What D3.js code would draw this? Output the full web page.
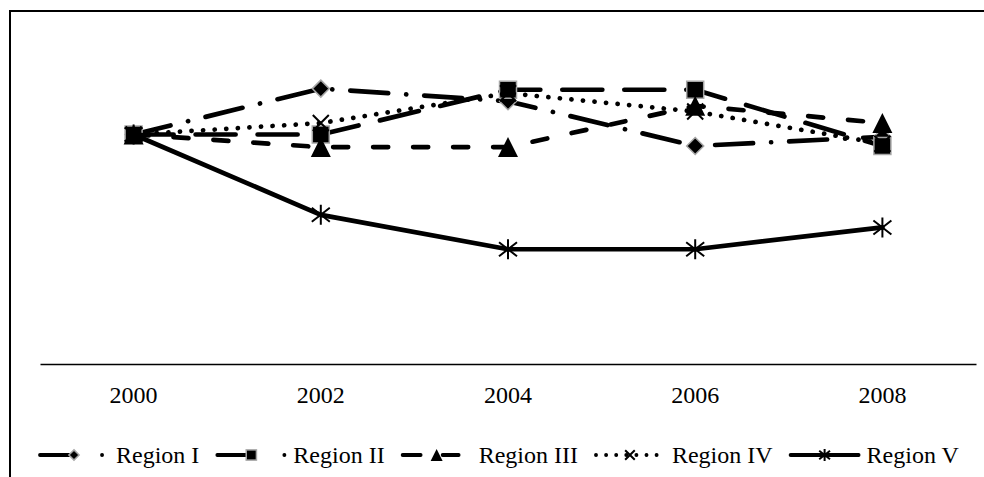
<!DOCTYPE html>
<html>
<head>
<meta charset="utf-8">
<script src="https://cdn.jsdelivr.net/npm/d3@7"></script>
<style>
body { margin: 0; background: #fff; }
text { font-family: "Liberation Serif", "Times New Roman", serif; }
</style>
</head>
<body>
<div id="gr"></div>
<script>
// data (index, 2000 = 100)
var years = ["2000", "2002", "2004", "2006", "2008"];
var seriesNames = ["Region I", "Region II", "Region III", "Region IV", "Region V"];
var region1 = [100, 120, 114.5, 95, 99];
var region2 = [100, 100, 119.5, 119.5, 95];
var region3 = [100, 94.5, 94.5, 112.5, 105];
var region4 = [100, 105, 118, 110, 96];
var region5 = [100, 65, 50, 50, 59.5];
var allSeries = [region1, region2, region3, region4, region5];

// looks of each series: chart dash, legend dash, marker kind
var looks = [
  { dash: "38,18,0.1,18", legDash: "30,32,0.1,20", marker: "diamond" },
  { dash: "40,22", legDash: "30,37,0.1,20", marker: "square" },
  { dash: "15,25", legDash: "18,22,16,30", marker: "triangle" },
  { dash: "0.1,11.5", legDash: "0.1,10", marker: "x" },
  { dash: null, legDash: null, marker: "star" }
];

var width = 984, height = 477;

var svg = d3.select("#gr").append("svg")
  .attr("width", width)
  .attr("height", height);

// chart frame (clipped by the window on the right and bottom)
svg.append("rect")
  .attr("x", 10).attr("y", 11)
  .attr("width", 1000).attr("height", 500)
  .attr("fill", "none")
  .attr("stroke", "#000")
  .attr("stroke-width", 2);

var xScale = d3.scaleBand().domain(years).range([40, 976]).padding(0);
var yScale = d3.scaleLinear().domain([0, 150]).range([364, 19.75]);

function cx(i) { return xScale(years[i]) + xScale.bandwidth() / 2; }

var xAxis = d3.axisBottom(xScale).tickSize(0).tickSizeOuter(0).tickPadding(22);

var ax = svg.append("g")
  .attr("transform", "translate(0,364)")
  .call(xAxis);
ax.select(".domain").attr("stroke", "#000").attr("stroke-width", 1.4);
ax.selectAll("text")
  .attr("fill", "#000")
  .style("font-family", "'Liberation Serif', 'Times New Roman', serif")
  .style("font-size", "24px");

// marker drawing
function drawMarker(g, kind, x, y, s) {
  if (kind == "diamond") {
    var r = 8.5 * s;
    g.append("path")
      .attr("d", "M" + x + "," + (y - r) + "L" + (x + r) + "," + y + "L" + x + "," + (y + r) + "L" + (x - r) + "," + y + "Z")
      .attr("fill", "#000").attr("stroke", "#a6a6a6").attr("stroke-width", 1.5);
  } else if (kind == "square") {
    var h = 8.5 * s;
    g.append("rect")
      .attr("x", x - h).attr("y", y - h)
      .attr("width", 2 * h).attr("height", 2 * h)
      .attr("fill", "#000").attr("stroke", "#a6a6a6").attr("stroke-width", 1.5);
  } else if (kind == "triangle") {
    var w = 10 * s, t = 10 * s;
    g.append("path")
      .attr("d", "M" + x + "," + (y - t) + "L" + (x + w) + "," + (y + t) + "L" + (x - w) + "," + (y + t) + "Z")
      .attr("fill", "#000");
  } else if (kind == "x") {
    var a = 8 * s;
    g.append("path")
      .attr("d", "M" + (x - a) + "," + (y - a) + "L" + (x + a) + "," + (y + a) + "M" + (x - a) + "," + (y + a) + "L" + (x + a) + "," + (y - a))
      .attr("stroke", "#000").attr("stroke-width", 2).attr("fill", "none");
  } else if (kind == "star") {
    var b = 9 * s, c = 7 * s, v = 10 * s;
    g.append("path")
      .attr("d", "M" + (x - b) + "," + (y - c) + "L" + (x + b) + "," + (y + c) +
        "M" + (x - b) + "," + (y + c) + "L" + (x + b) + "," + (y - c) +
        "M" + x + "," + (y - v) + "L" + x + "," + (y + v))
      .attr("stroke", "#000").attr("stroke-width", 2).attr("fill", "none");
  }
}

var line = d3.line()
  .x(function (d, i) { return cx(i); })
  .y(function (d) { return yScale(d); });

allSeries.forEach(function (vals, k) {
  var g = svg.append("g").attr("class", "series");
  var p = g.append("path")
    .attr("d", line(vals))
    .attr("fill", "none")
    .attr("stroke", "#000")
    .attr("stroke-width", 4.7)
    .attr("stroke-linecap", "round")
    .attr("stroke-linejoin", "round");
  if (looks[k].dash) p.attr("stroke-dasharray", looks[k].dash);
  vals.forEach(function (v, i) {
    drawMarker(g, looks[k].marker, cx(i), yScale(v), 1);
  });
});

// legend, laid out left to right
var legY = 455;
var lx = 40;
seriesNames.forEach(function (name, k) {
  var g = svg.append("g").attr("class", "legend");
  var p = g.append("path")
    .attr("d", "M" + lx + "," + legY + "H" + (lx + 68))
    .attr("fill", "none")
    .attr("stroke", "#000")
    .attr("stroke-width", 3.8)
    .attr("stroke-linecap", "round");
  if (looks[k].legDash) p.attr("stroke-dasharray", looks[k].legDash);
  drawMarker(g, looks[k].marker, lx + 34, legY, 0.6);
  var t = g.append("text")
    .attr("x", lx + 76)
    .attr("y", legY + 8)
    .style("font-size", "24px")
    .attr("fill", "#000")
    .text(name);
  lx = lx + 76 + t.node().getComputedTextLength() + 18;
});
</script>
</body>
</html>
